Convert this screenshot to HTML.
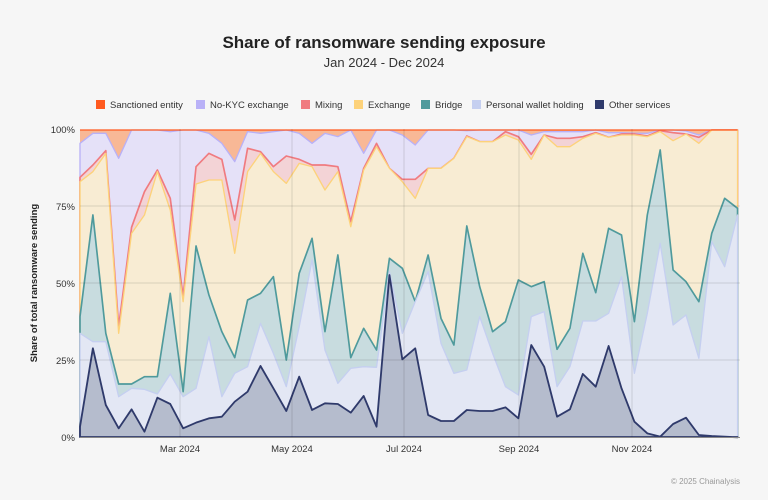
<!DOCTYPE html>
<html><head><meta charset="utf-8"><style>
html,body{margin:0;padding:0;background:#f6f6f6;}
body{width:768px;height:495px;overflow:hidden;font-family:"Liberation Sans",sans-serif;}
</style></head><body>
<svg width="768" height="495" xmlns="http://www.w3.org/2000/svg" font-family="Liberation Sans, sans-serif">
<rect width="768" height="495" fill="#f6f6f6"/>
<text x="384" y="48" text-anchor="middle" font-size="17" font-weight="bold" fill="#222">Share of ransomware sending exposure</text>
<text x="384" y="67" text-anchor="middle" font-size="13" fill="#333">Jan 2024 - Dec 2024</text>
<g font-size="9.5" fill="#333">
<rect x="96" y="100" width="9" height="9" fill="#ff5a1f"/><text x="110" y="108">Sanctioned entity</text>
<rect x="196" y="100" width="9" height="9" fill="#b9b1f7"/><text x="210" y="108">No-KYC exchange</text>
<rect x="301" y="100" width="9" height="9" fill="#f07b80"/><text x="315" y="108">Mixing</text>
<rect x="354" y="100" width="9" height="9" fill="#fdd27a"/><text x="368" y="108">Exchange</text>
<rect x="421" y="100" width="9" height="9" fill="#4f9a9c"/><text x="435" y="108">Bridge</text>
<rect x="472" y="100" width="9" height="9" fill="#c5cff0"/><text x="486" y="108">Personal wallet holding</text>
<rect x="595" y="100" width="9" height="9" fill="#2f3a6b"/><text x="609" y="108">Other services</text>
</g>
<g transform="translate(70,120) scale(0.33333)">
<rect x="30" y="30" width="1972.7" height="921" fill="#f8b896"/>
<polygon fill="#e5e1f8" stroke="#b9b1f7" stroke-width="4" stroke-linejoin="round" points="30,70 68.7,40 107.4,40 146,115 184.7,30 223.4,30 262.1,30 300.8,35 339.4,30 378.1,30 416.8,40 455.5,70 494.2,125 532.8,35 571.5,40 610.2,35 648.9,30 687.6,40 726.2,70 764.9,40 803.6,50 842.3,30 881,100 919.6,30 958.3,30 997,45 1035.7,75 1074.4,30 1113,30 1151.7,30 1190.4,32 1229.1,30 1267.8,30 1306.4,30 1345.1,30 1383.8,45 1422.5,35 1461.2,35 1499.8,35 1538.5,35 1577.2,30 1615.9,38 1654.6,38 1693.2,40 1731.9,40 1770.6,30 1809.3,30 1848,33 1886.6,45 1925.3,30 1964,30 2002.7,30 2002.7,951 30,951"/>
<polygon fill="#f3d3d6" stroke="#f07b80" stroke-width="5" stroke-linejoin="round" points="30,172 68.7,135 107.4,92 146,620 184.7,322 223.4,215 262.1,150 300.8,235 339.4,530 378.1,140 416.8,100 455.5,118 494.2,300 532.8,85 571.5,95 610.2,140 648.9,108 687.6,118 726.2,135 764.9,135 803.6,140 842.3,305 881,145 919.6,70 958.3,145 997,178 1035.7,178 1074.4,145 1113,145 1151.7,115 1190.4,48 1229.1,65 1267.8,65 1306.4,35 1345.1,50 1383.8,103 1422.5,45 1461.2,55 1499.8,55 1538.5,50 1577.2,38 1615.9,52 1654.6,42 1693.2,42 1731.9,48 1770.6,32 1809.3,38 1848,42 1886.6,52 1925.3,30 1964,30 2002.7,30 2002.7,951 30,951"/>
<polygon fill="#f8ecd3" stroke="#fdd27a" stroke-width="4" stroke-linejoin="round" points="30,185 68.7,155 107.4,100 146,640 184.7,340 223.4,285 262.1,155 300.8,270 339.4,545 378.1,192 416.8,180 455.5,180 494.2,400 532.8,155 571.5,100 610.2,155 648.9,190 687.6,130 726.2,140 764.9,210 803.6,155 842.3,320 881,150 919.6,80 958.3,145 997,185 1035.7,235 1074.4,145 1113,145 1151.7,115 1190.4,50 1229.1,65 1267.8,65 1306.4,45 1345.1,60 1383.8,118 1422.5,45 1461.2,80 1499.8,80 1538.5,55 1577.2,40 1615.9,52 1654.6,45 1693.2,45 1731.9,50 1770.6,35 1809.3,62 1848,42 1886.6,70 1925.3,30 1964,30 2002.7,30 2002.7,951 30,951"/>
<polygon fill="#c8dcdf" stroke="#4f9a9c" stroke-width="5" stroke-linejoin="round" points="30,590 68.7,285 107.4,640 146,792 184.7,792 223.4,770 262.1,770 300.8,520 339.4,815 378.1,378 416.8,525 455.5,635 494.2,713 532.8,540 571.5,520 610.2,470 648.9,720 687.6,460 726.2,355 764.9,635 803.6,405 842.3,713 881,625 919.6,690 958.3,415 997,445 1035.7,545 1074.4,405 1113,595 1151.7,675 1190.4,318 1229.1,500 1267.8,635 1306.4,605 1345.1,480 1383.8,500 1422.5,485 1461.2,688 1499.8,625 1538.5,400 1577.2,518 1615.9,325 1654.6,345 1693.2,605 1731.9,285 1770.6,90 1809.3,450 1848,485 1886.6,545 1925.3,340 1964,235 2002.7,265 2002.7,951 30,951"/>
<polygon fill="#e3e7f4" stroke="#c5cff0" stroke-width="4" stroke-linejoin="round" points="30,640 68.7,665 107.4,665 146,830 184.7,805 223.4,808 262.1,822 300.8,762 339.4,830 378.1,805 416.8,650 455.5,830 494.2,760 532.8,740 571.5,610 610.2,700 648.9,800 687.6,620 726.2,420 764.9,690 803.6,790 842.3,745 881,740 919.6,742 958.3,455 997,640 1035.7,545 1074.4,455 1113,670 1151.7,760 1190.4,750 1229.1,590 1267.8,700 1306.4,800 1345.1,825 1383.8,590 1422.5,575 1461.2,800 1499.8,740 1538.5,603 1577.2,603 1615.9,580 1654.6,470 1693.2,760 1731.9,580 1770.6,370 1809.3,615 1848,585 1886.6,715 1925.3,365 1964,440 2002.7,285 2002.7,951 30,951"/>
<polygon fill="#b5bccd" stroke="#2f3a6b" stroke-width="5.5" stroke-linejoin="round" points="30,920 68.7,685 107.4,855 146,925 184.7,868 223.4,935 262.1,833 300.8,852 339.4,925 378.1,908 416.8,895 455.5,890 494.2,845 532.8,815 571.5,738 610.2,805 648.9,873 687.6,770 726.2,870 764.9,850 803.6,852 842.3,878 881,828 919.6,920 958.3,465 997,718 1035.7,685 1074.4,885 1113,903 1151.7,903 1190.4,870 1229.1,873 1267.8,873 1306.4,862 1345.1,895 1383.8,675 1422.5,740 1461.2,890 1499.8,868 1538.5,762 1577.2,800 1615.9,678 1654.6,805 1693.2,905 1731.9,940 1770.6,950 1809.3,912 1848,893 1886.6,945 1925.3,948 1964,950 2002.7,952 2002.7,951 30,951"/>
<line x1="30" y1="30" x2="2002.7" y2="30" stroke="#ff5a1f" stroke-width="4"/>
</g>
<g stroke="#000" stroke-opacity="0.12" stroke-width="1">
<line x1="80" y1="206" x2="740" y2="206"/>
<line x1="80" y1="283" x2="740" y2="283"/>
<line x1="80" y1="360" x2="740" y2="360"/>
<line x1="180" y1="129" x2="180" y2="437"/>
<line x1="292" y1="129" x2="292" y2="437"/>
<line x1="404" y1="129" x2="404" y2="437"/>
<line x1="519" y1="129" x2="519" y2="437"/>
<line x1="632" y1="129" x2="632" y2="437"/>
</g>
<line x1="80" y1="437.5" x2="740" y2="437.5" stroke="#888" stroke-width="1"/>
<g font-size="9.5" fill="#333" text-anchor="end">
<text x="75" y="133">100%</text>
<text x="75" y="210">75%</text>
<text x="75" y="287">50%</text>
<text x="75" y="364">25%</text>
<text x="75" y="441">0%</text>
</g>
<g font-size="9.5" fill="#333" text-anchor="middle">
<text x="180" y="452">Mar 2024</text>
<text x="292" y="452">May 2024</text>
<text x="404" y="452">Jul 2024</text>
<text x="519" y="452">Sep 2024</text>
<text x="632" y="452">Nov 2024</text>
</g>
<text transform="translate(37,283) rotate(-90)" text-anchor="middle" font-size="9.5" font-weight="bold" fill="#222">Share of total ransomware sending</text>
<text x="740" y="484" text-anchor="end" font-size="8" fill="#999">© 2025 Chainalysis</text>
</svg>
</body></html>
